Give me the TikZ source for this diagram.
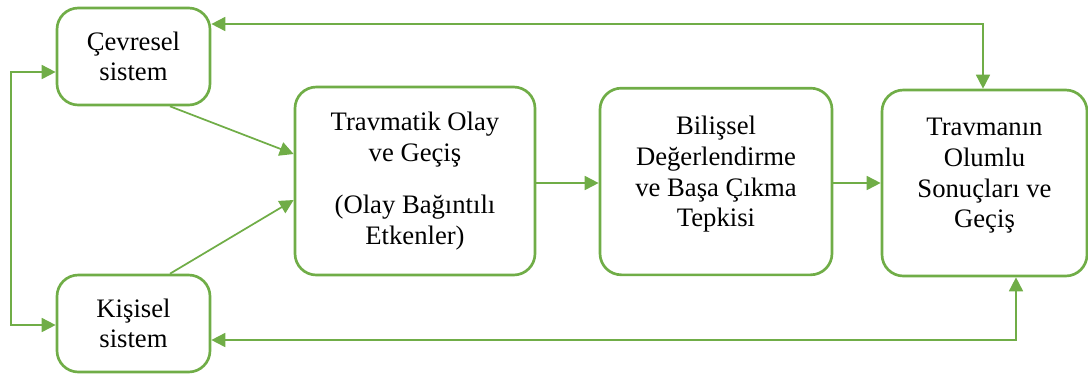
\documentclass[tikz,border=0pt]{standalone}
\usepackage{fontspec}
\setmainfont{Liberation Serif}
\newfontfamily\boxfont{Liberation Serif}
\usetikzlibrary{arrows.meta,calc}
\definecolor{leaf}{HTML}{70AD47}
\begin{document}
\begin{tikzpicture}[x=0.75pt,y=-0.75pt,
  box/.style={draw=leaf,line width=2pt,rounded corners=16pt,fill=white,
    align=center,inner sep=0pt,font=\boxfont\fontsize{20pt}{23pt}\selectfont},
  txt/.style={align=center,inner sep=0pt,font=\boxfont\fontsize{20pt}{23pt}\selectfont},
  conn/.style={draw=leaf,line width=1.3pt,
    arrows={-Triangle[length=10.5pt,width=10.5pt]}},
  both/.style={conn,arrows={Triangle[length=10.5pt,width=10.5pt]-Triangle[length=10.5pt,width=10.5pt]}}]
\useasboundingbox (0,0) rectangle (1088,376);

% boxes
\node[box,minimum width=114.75pt,minimum height=72.75pt] (cev) at (133.5,56.5)
  {Çevresel\\sistem};
\node[box,minimum width=114.75pt,minimum height=72.75pt] (kis) at (133.5,323.5)
  {Kişisel\\sistem};
\node[box,minimum width=180pt,minimum height=141pt] (trav) at (415,181)
  {Travmatik Olay\\ve Geçiş\\[16pt](Olay Bağıntılı\\Etkenler)};
\node[box,minimum width=174pt,minimum height=140pt] (bil) at (716,181.5) {};
\node[txt] (biltext) at (716,174.5)
  {Bilişsel\\Değerlendirme\\ve Başa Çıkma\\Tepkisi};
\node[box,minimum width=153.75pt,minimum height=139.5pt] (res) at (984.5,183) {};
\node[txt] (restext) at (984.5,176)
  {Travmanın\\Olumlu\\Sonuçları ve\\Geçiş};

% routing points of the connectors
\coordinate (tr) at (983,24);
\coordinate (br) at (1016,340);
\coordinate (lt) at (11,72);
\coordinate (lb) at (11,325);
\coordinate (mid) at (0,183);
\coordinate (cevout) at ($(cev.south)+(36.5,0)$);
\coordinate (kisout) at ($(kis.north)+(36.5,0)$);
\coordinate (travin1) at ($(trav.west)+(0,-27)$);
\coordinate (travin2) at ($(trav.west)+(0,19)$);

% connectors
\draw[both] (tr -| cev.east) -- (tr) -- (tr |- res.north);
\draw[both] (br -| kis.east) -- (br) -- (br |- res.south);
\draw[both] (lt -| cev.west) -- (lt) -- (lb) -- (lb -| kis.west);
\draw[conn] (cevout) -- (travin1);
\draw[conn] (kisout) -- (travin2);
\draw[conn] (mid -| trav.east) -- (mid -| bil.west);
\draw[conn] (mid -| bil.east) -- (mid -| res.west);
\end{tikzpicture}
\end{document}
